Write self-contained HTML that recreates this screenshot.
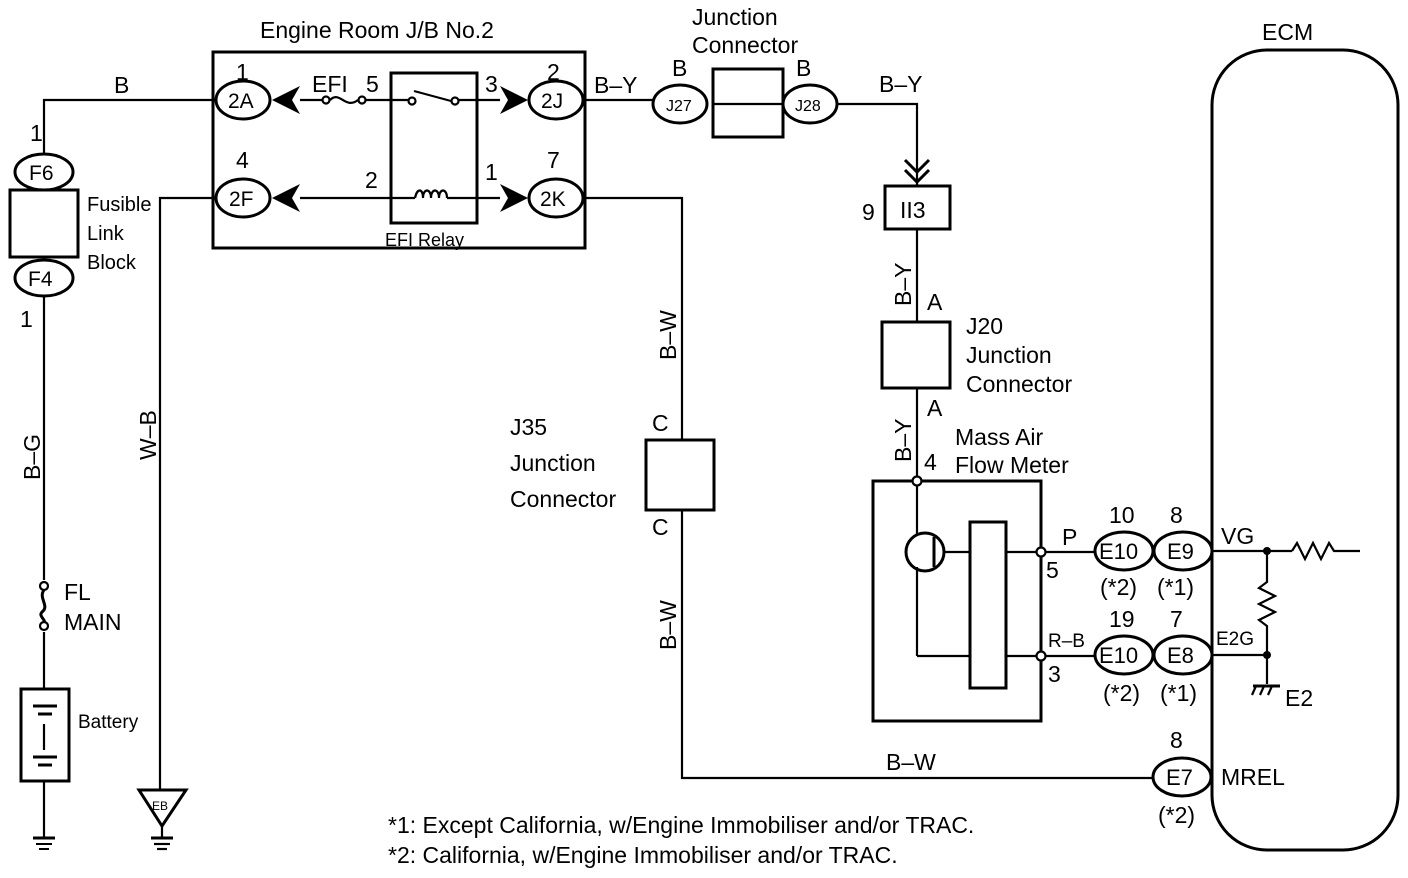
<!DOCTYPE html>
<html><head><meta charset="utf-8"><style>
html,body{margin:0;padding:0;background:#fff;}
svg{display:block;}
text{font-family:"Liberation Sans",sans-serif;fill:#000;}
</style></head><body>
<svg width="1408" height="878" viewBox="0 0 1408 878" xmlns="http://www.w3.org/2000/svg">
<g fill="none" stroke="#000" stroke-width="2.2">
<!-- left wire -->
<polyline points="215,100 44,100 44,155"/>
<line x1="44" y1="295" x2="44" y2="580"/>
<line x1="44" y1="632" x2="44" y2="690"/>
<line x1="44" y1="780" x2="44" y2="830"/>
<circle cx="44" cy="586" r="4" fill="#fff"/>
<circle cx="44" cy="626" r="4" fill="#fff"/>
<path d="M44,590 C38,598 50,606 42,612 C38,616 46,620 44,622" stroke-width="3"/>
<rect x="10" y="190" width="68" height="67" stroke-width="3"/>
<ellipse cx="44" cy="172" rx="29" ry="18" stroke-width="3" fill="#fff"/>
<ellipse cx="44" cy="278" rx="29" ry="18" stroke-width="3" fill="#fff"/>
<rect x="21" y="689" width="48" height="92" stroke-width="3"/>
<line x1="33" y1="706" x2="57" y2="706" stroke-width="3"/>
<line x1="38" y1="714" x2="52" y2="714" stroke-width="3"/>
<line x1="44" y1="724" x2="44" y2="750"/>
<line x1="33" y1="757" x2="57" y2="757" stroke-width="3"/>
<line x1="38" y1="765" x2="52" y2="765" stroke-width="3"/>
<line x1="33" y1="838" x2="55" y2="838" stroke-width="3"/>
<line x1="36" y1="844" x2="52" y2="844" stroke-width="2"/>
<line x1="39" y1="849" x2="49" y2="849" stroke-width="2"/>
<line x1="44" y1="830" x2="44" y2="838"/>
<!-- W-B wire -->
<polyline points="215,198 160,198 160,790"/>
<path d="M139,790 L186,790 L162,826 Z" stroke-width="3"/>
<line x1="162" y1="826" x2="162" y2="838"/>
<line x1="151" y1="838" x2="173" y2="838" stroke-width="3"/>
<line x1="154" y1="844" x2="170" y2="844"/>
<line x1="157" y1="849" x2="167" y2="849"/>
<!-- JB box -->
<rect x="213" y="52" width="372" height="196" stroke-width="3"/>
<rect x="391" y="73" width="86" height="150" stroke-width="3"/>
<line x1="300" y1="100" x2="323" y2="100"/>
<circle cx="326" cy="100" r="3.5" fill="#fff"/>
<path d="M330,100 C340,90 345,110 358,100"/>
<circle cx="362" cy="100" r="3.5" fill="#fff"/>
<line x1="366" y1="100" x2="409" y2="100"/>
<circle cx="412" cy="101" r="3.5" fill="#fff"/>
<line x1="414" y1="91" x2="451" y2="101"/>
<circle cx="455" cy="101" r="3.5" fill="#fff"/>
<line x1="459" y1="100" x2="500" y2="100"/>
<line x1="300" y1="198" x2="415" y2="198"/>
<path d="M415,198 c2,-10 8,-10 8,0 c0,-10 8,-10 8,0 c0,-10 8,-10 8,0 c0,-10 8,-10 8,0"/>
<line x1="447" y1="198" x2="500" y2="198"/>
<polyline points="585,100 655,100"/>
<polyline points="585,198 682,198 682,440"/>
<polyline points="682,510 682,778 1152,778"/>
<ellipse cx="243" cy="100" rx="27" ry="19" stroke-width="3" fill="#fff"/>
<ellipse cx="243" cy="198" rx="27" ry="19" stroke-width="3" fill="#fff"/>
<ellipse cx="556" cy="100" rx="27" ry="19" stroke-width="3" fill="#fff"/>
<ellipse cx="556" cy="198" rx="27" ry="19" stroke-width="3" fill="#fff"/>
<!-- junction connector -->
<rect x="713" y="69" width="70" height="68" stroke-width="3"/>
<line x1="713" y1="104" x2="783" y2="104"/>
<ellipse cx="680" cy="104" rx="27" ry="19" stroke-width="3" fill="#fff"/>
<ellipse cx="810" cy="104" rx="27" ry="19" stroke-width="3" fill="#fff"/>
<polyline points="837,104 917,104 917,186"/>
<polyline points="905,160 917,172 929,160" stroke-width="3"/>
<polyline points="905,170 917,182 929,170" stroke-width="3"/>
<rect x="885" y="186" width="65" height="43" stroke-width="3"/>
<line x1="917" y1="229" x2="917" y2="322"/>
<line x1="917" y1="388" x2="917" y2="477"/>
<rect x="882" y="322" width="68" height="66" stroke-width="3"/>
<!-- J35 -->
<rect x="646" y="440" width="68" height="70" stroke-width="3"/>
<!-- MAF -->
<rect x="873" y="481" width="168" height="240" stroke-width="3"/>
<circle cx="917" cy="481" r="4.5" fill="#fff"/>
<line x1="917" y1="486" x2="917" y2="535"/>
<circle cx="925" cy="552" r="19" stroke-width="3"/>
<line x1="934" y1="537" x2="934" y2="567" stroke-width="3"/>
<line x1="917" y1="567" x2="917" y2="656"/>
<line x1="917" y1="656" x2="970" y2="656"/>
<line x1="944" y1="552" x2="970" y2="552"/>
<rect x="970" y="522" width="36" height="166" stroke-width="3"/>
<line x1="1006" y1="552" x2="1037" y2="552"/>
<line x1="1006" y1="656" x2="1037" y2="656"/>
<circle cx="1041" cy="552" r="4.5" fill="#fff"/>
<circle cx="1041" cy="656" r="4.5" fill="#fff"/>
<line x1="1045" y1="552" x2="1095" y2="552"/>
<line x1="1045" y1="656" x2="1095" y2="656"/>
<ellipse cx="1124" cy="551" rx="29" ry="19" stroke-width="3" fill="#fff"/>
<ellipse cx="1183" cy="551" rx="29" ry="19" stroke-width="3" fill="#fff"/>
<ellipse cx="1124" cy="655" rx="29" ry="19" stroke-width="3" fill="#fff"/>
<ellipse cx="1183" cy="655" rx="29" ry="19" stroke-width="3" fill="#fff"/>
<ellipse cx="1182" cy="777" rx="29" ry="19" stroke-width="3" fill="#fff"/>
<!-- ECM -->
<rect x="1212" y="50" width="186" height="800" rx="55" ry="55" stroke-width="3"/>
<line x1="1212" y1="551" x2="1292" y2="551"/>
<polyline points="1292,551 1297,543 1305,559 1313,543 1321,559 1329,543 1334,551 1360,551"/>
<polyline points="1267,551 1267,582 1259,588 1275,596 1259,604 1275,612 1259,620 1267,626 1267,684"/>
<line x1="1212" y1="655" x2="1267" y2="655"/>
<line x1="1253" y1="686" x2="1280" y2="686" stroke-width="3"/>
<line x1="1256" y1="686" x2="1252" y2="695"/>
<line x1="1264" y1="686" x2="1260" y2="695"/>
<line x1="1272" y1="686" x2="1268" y2="695"/>
</g>
<g fill="#000">
<circle cx="1267" cy="551" r="4"/>
<circle cx="1267" cy="655" r="4"/>
<path d="M272,100 L300,86 L292,100 L300,114 Z"/>
<path d="M272,198 L300,184 L292,198 L300,212 Z"/>
<path d="M528,100 L500,86 L508,100 L500,114 Z"/>
<path d="M528,198 L500,184 L508,198 L500,212 Z"/>
</g>
<g font-size="23">
<text x="260" y="38">Engine Room J/B No.2</text>
<text x="114" y="93">B</text>
<text x="30" y="141">1</text>
<text x="20" y="327">1</text>
<text x="29" y="180" font-size="21">F6</text>
<text x="28" y="286" font-size="21">F4</text>
<text x="87" y="211" font-size="20">Fusible</text>
<text x="87" y="240" font-size="20">Link</text>
<text x="87" y="269" font-size="20">Block</text>
<text x="64" y="600">FL</text>
<text x="64" y="630">MAIN</text>
<text x="78" y="728" font-size="19">Battery</text>
<text x="152" y="810" font-size="12">EB</text>
<text transform="translate(40,480) rotate(-90)">B–G</text>
<text transform="translate(156,460) rotate(-90)">W–B</text>
<text x="236" y="80">1</text>
<text x="236" y="168">4</text>
<text x="228" y="108" font-size="21">2A</text>
<text x="229" y="206" font-size="21">2F</text>
<text x="312" y="92">EFI</text>
<text x="366" y="92">5</text>
<text x="365" y="188">2</text>
<text x="485" y="92">3</text>
<text x="485" y="180">1</text>
<text x="547" y="80">2</text>
<text x="547" y="168">7</text>
<text x="541" y="108" font-size="21">2J</text>
<text x="540" y="206" font-size="21">2K</text>
<text x="385" y="246" font-size="18">EFI Relay</text>
<text x="594" y="93">B–Y</text>
<text x="672" y="76">B</text>
<text x="796" y="76">B</text>
<text x="692" y="25">Junction</text>
<text x="692" y="53">Connector</text>
<text x="666" y="111" font-size="16">J27</text>
<text x="795" y="111" font-size="16">J28</text>
<text x="879" y="92">B–Y</text>
<text x="862" y="220">9</text>
<text x="900" y="218">II3</text>
<text transform="translate(911,306) rotate(-90)">B–Y</text>
<text x="927" y="310">A</text>
<text x="927" y="416">A</text>
<text x="966" y="334">J20</text>
<text x="966" y="363">Junction</text>
<text x="966" y="392">Connector</text>
<text transform="translate(911,462) rotate(-90)">B–Y</text>
<text x="924" y="470">4</text>
<text x="955" y="445">Mass Air</text>
<text x="955" y="473">Flow Meter</text>
<text x="1262" y="40">ECM</text>
<text transform="translate(676,360) rotate(-90)">B–W</text>
<text transform="translate(676,650) rotate(-90)">B–W</text>
<text x="652" y="431">C</text>
<text x="652" y="535">C</text>
<text x="510" y="435">J35</text>
<text x="510" y="471">Junction</text>
<text x="510" y="507">Connector</text>
<text x="1062" y="545">P</text>
<text x="1046" y="578">5</text>
<text x="1048" y="647" font-size="19">R–B</text>
<text x="1048" y="682">3</text>
<text x="1109" y="523">10</text>
<text x="1170" y="523">8</text>
<text x="1109" y="627">19</text>
<text x="1170" y="627">7</text>
<text x="1170" y="748">8</text>
<text x="1099" y="559" font-size="22">E10</text>
<text x="1167" y="559" font-size="22">E9</text>
<text x="1099" y="663" font-size="22">E10</text>
<text x="1167" y="663" font-size="22">E8</text>
<text x="1166" y="785" font-size="22">E7</text>
<text x="1100" y="595">(*2)</text>
<text x="1157" y="595">(*1)</text>
<text x="1103" y="701">(*2)</text>
<text x="1160" y="701">(*1)</text>
<text x="1158" y="823">(*2)</text>
<text x="1221" y="544">VG</text>
<text x="1216" y="645" font-size="19">E2G</text>
<text x="1285" y="706">E2</text>
<text x="1221" y="785">MREL</text>
<text x="886" y="770">B–W</text>
<text x="388" y="833">*1: Except California, w/Engine Immobiliser and/or TRAC.</text>
<text x="388" y="863">*2: California, w/Engine Immobiliser and/or TRAC.</text>
</g>
</svg>
</body></html>
